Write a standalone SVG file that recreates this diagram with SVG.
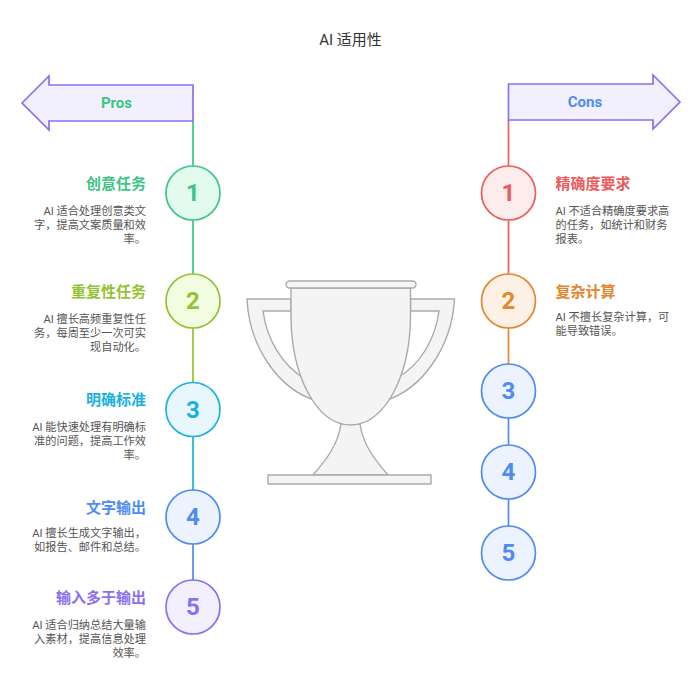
<svg xmlns="http://www.w3.org/2000/svg" width="694" height="686" viewBox="0 0 694 686">
<style>
text{font-family:"Roboto","Noto Sans CJK SC",sans-serif}
.title{font-size:15px;fill:#333;text-anchor:middle}
.h{font-size:15px;font-weight:700}
.d{font-size:11.2px;fill:#555}
.r{text-anchor:end}
.num{font-size:24px;font-weight:700;text-anchor:middle}
.ban{font-size:15px;font-weight:700;text-anchor:middle}
.c{stroke-width:1.7}
.conn line{stroke-width:1.7}
.t{fill:#f4f4f4;stroke:#aaa;stroke-width:1.4;stroke-linejoin:round}
</style>
<text class="title" x="350.500" y="45">AI 适用性</text>
<g id="connectors" class="conn">
<line x1="193" y1="121" x2="193" y2="166" stroke="#3cc583"/>
<line x1="193" y1="220" x2="193" y2="274" stroke="#3cc583"/>
<line x1="193" y1="328" x2="193" y2="382" stroke="#93c332"/>
<line x1="193" y1="436" x2="193" y2="490" stroke="#1ab1e0"/>
<line x1="193" y1="544" x2="193" y2="580" stroke="#4e8cf0"/>
<line x1="508.500" y1="120" x2="508.500" y2="166" stroke="#ed5c5c"/>
<line x1="508.500" y1="220" x2="508.500" y2="274" stroke="#ed5c5c"/>
<line x1="508.500" y1="328" x2="508.500" y2="364" stroke="#e4862b"/>
<line x1="508.500" y1="418" x2="508.500" y2="445" stroke="#4e8cf0"/>
<line x1="508.500" y1="499" x2="508.500" y2="526" stroke="#4e8cf0"/>
</g>
<g id="pros-banner">
<polygon points="22,103 49,76 49,85 193,85 193,121 49,121 49,130" fill="#f2f0ff" stroke="#8b6ff0" stroke-width="1.700"/>
<text class="ban" x="116.500" y="108" fill="#3cc583">Pros</text>
</g>
<g id="cons-banner">
<polygon points="680,102 653,75 653,84 508.500,84 508.500,120 653,120 653,129" fill="#f2f0ff" stroke="#8b6ff0" stroke-width="1.700"/>
<text class="ban" x="585" y="107" fill="#4e8cf0">Cons</text>
</g>
<g id="trophy">
<path class="t" d="M291,299H247C249,345 277,389 317,401L305,379C282,365 267,340 263,311H291Z"/>
<path class="t" d="M410.500,299H454.500C452,345 424,389 384,401L397,378C420,365 435,340 439,311H410.500Z"/>
<path class="t" d="M341,424C338,445 326,460 313,475H388C375,460 363,445 360,424Z"/>
<rect class="t" x="268" y="475" width="163" height="9"/>
<path class="t" d="M291,288H410.500V315C410.500,375 385,425 351,425C316,425 291,375 291,315Z"/>
<rect class="t" x="286" y="281" width="130" height="7" rx="3.500"/>
</g>
<g id="pro-1">
<circle class="c" cx="193" cy="193" r="27" fill="#e3fbef" stroke="#3cc583"/>
<text class="num" x="193" y="201" fill="#3cc583">1</text>
<text class="h r" x="146" y="189" fill="#3cc583">创意任务</text>
<text class="d r" x="146" y="215">AI 适合处理创意类文</text>
<text class="d r" x="146" y="229">字，提高文案质量和效</text>
<text class="d r" x="146" y="243">率。</text>
</g>
<g id="pro-2">
<circle class="c" cx="193" cy="301" r="27" fill="#f2fce0" stroke="#93c332"/>
<text class="num" x="193" y="309" fill="#93c332">2</text>
<text class="h r" x="146" y="297" fill="#93c332">重复性任务</text>
<text class="d r" x="146" y="323">AI 擅长高频重复性任</text>
<text class="d r" x="146" y="337">务，每周至少一次可实</text>
<text class="d r" x="146" y="351">现自动化。</text>
</g>
<g id="pro-3">
<circle class="c" cx="193" cy="409.500" r="27" fill="#e8f7fd" stroke="#1ab1e0"/>
<text class="num" x="193" y="417.500" fill="#1ab1e0">3</text>
<text class="h r" x="146" y="405" fill="#1ab1e0">明确标准</text>
<text class="d r" x="146" y="431">AI 能快速处理有明确标</text>
<text class="d r" x="146" y="445">准的问题，提高工作效</text>
<text class="d r" x="146" y="459">率。</text>
</g>
<g id="pro-4">
<circle class="c" cx="193" cy="517" r="27" fill="#ecf3fe" stroke="#4e8cf0"/>
<text class="num" x="193" y="525" fill="#4e8cf0">4</text>
<text class="h r" x="146" y="513" fill="#4e8cf0">文字输出</text>
<text class="d r" x="146" y="537">AI 擅长生成文字输出，</text>
<text class="d r" x="146" y="551">如报告、邮件和总结。</text>
</g>
<g id="pro-5">
<circle class="c" cx="193" cy="607" r="27" fill="#f2f0ff" stroke="#8b6ff0"/>
<text class="num" x="193" y="615" fill="#8b6ff0">5</text>
<text class="h r" x="146" y="603" fill="#8b6ff0">输入多于输出</text>
<text class="d r" x="146" y="629">AI 适合归纳总结大量输</text>
<text class="d r" x="146" y="643">入素材，提高信息处理</text>
<text class="d r" x="146" y="657">效率。</text>
</g>
<g id="con-1">
<circle class="c" cx="508.500" cy="193" r="27" fill="#fdecec" stroke="#ed5c5c"/>
<text class="num" x="508.500" y="201" fill="#ed5c5c">1</text>
<text class="h" x="555.500" y="189" fill="#ed5c5c">精确度要求</text>
<text class="d" x="555.500" y="215">AI 不适合精确度要求高</text>
<text class="d" x="555.500" y="229">的任务，如统计和财务</text>
<text class="d" x="555.500" y="243">报表。</text>
</g>
<g id="con-2">
<circle class="c" cx="508.500" cy="301" r="27" fill="#fdf1e5" stroke="#e4862b"/>
<text class="num" x="508.500" y="309" fill="#e4862b">2</text>
<text class="h" x="555.500" y="297" fill="#e4862b">复杂计算</text>
<text class="d" x="555.500" y="321">AI 不擅长复杂计算，可</text>
<text class="d" x="555.500" y="335">能导致错误。</text>
</g>
<g id="con-3">
<circle class="c" cx="508.500" cy="391" r="27" fill="#ecf3fe" stroke="#4e8cf0"/>
<text class="num" x="508.500" y="399" fill="#4e8cf0">3</text>
</g>
<g id="con-4">
<circle class="c" cx="508.500" cy="472" r="27" fill="#ecf3fe" stroke="#4e8cf0"/>
<text class="num" x="508.500" y="480" fill="#4e8cf0">4</text>
</g>
<g id="con-5">
<circle class="c" cx="508.500" cy="553" r="27" fill="#ecf3fe" stroke="#4e8cf0"/>
<text class="num" x="508.500" y="561" fill="#4e8cf0">5</text>
</g>
</svg>
